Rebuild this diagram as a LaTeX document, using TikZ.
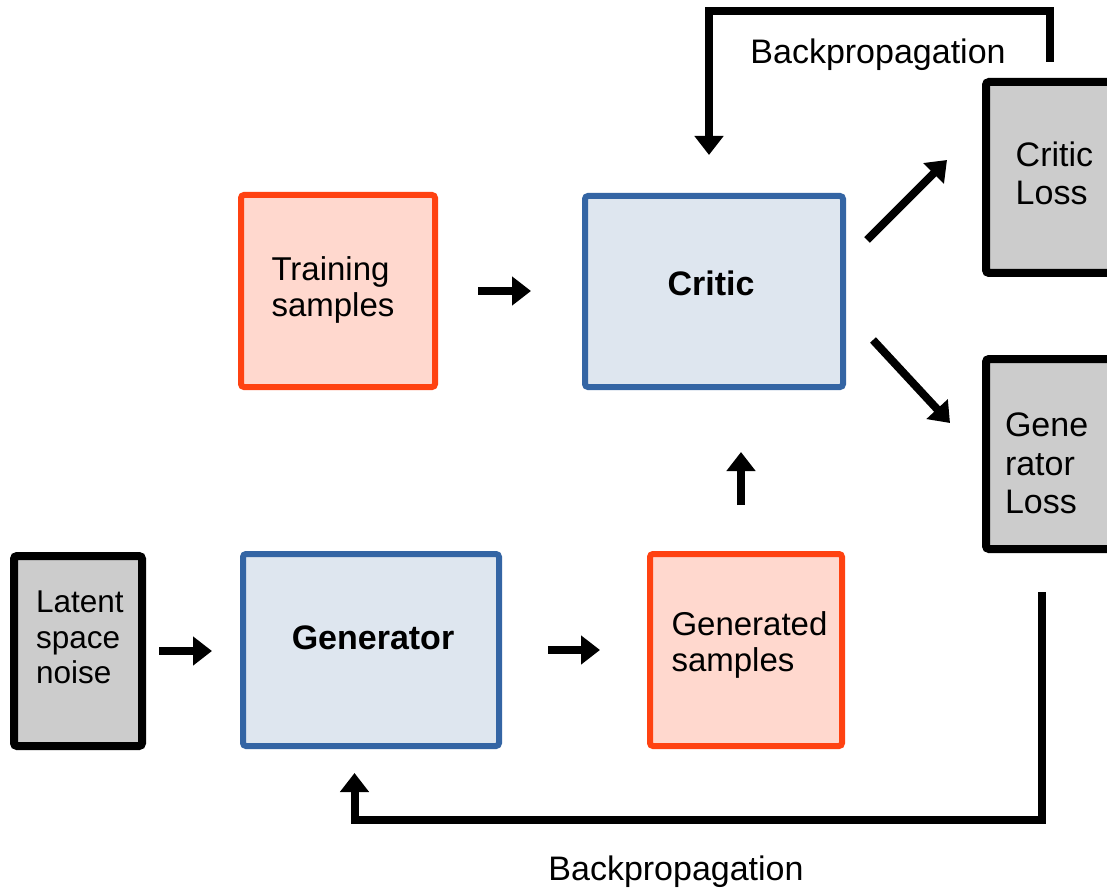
\documentclass[tikz,border=0pt]{standalone}
\usepackage{fontspec}
\setmainfont{Liberation Sans}
\usetikzlibrary{arrows.meta}
\definecolor{orgline}{HTML}{FF4211}
\definecolor{orgfill}{HTML}{FFD8CE}
\definecolor{bluline}{HTML}{3465A4}
\definecolor{blufill}{HTML}{DEE6EF}
\definecolor{grayfill}{HTML}{CCCCCC}
\begin{document}
\begin{tikzpicture}[x=1pt,y=-1pt,
  box/.style={rectangle, rounded corners=3pt, outer sep=0pt, inner sep=0pt},
  orgbox/.style={box, draw=orgline, fill=orgfill, line width=6pt},
  blubox/.style={box, draw=bluline, fill=blufill, line width=6pt},
  graybox/.style={box, draw=black, fill=grayfill, line width=8pt},
  txt/.style={inner sep=0pt, outer sep=0pt, align=left, anchor=base west},
  ctxt/.style={inner sep=0pt, outer sep=0pt, anchor=base},
  fsa/.style={font=\fontsize{33}{36.5}\selectfont},
  fsb/.style={font=\fontsize{34}{38.3}\selectfont},
  fsc/.style={font=\fontsize{31.5}{35.3}\selectfont},
  fsbold/.style={font=\fontsize{34}{38.3}\selectfont\bfseries},
  arr/.style={line width=8pt, -{Triangle[width=28pt,length=19pt]}},
  back/.style={arr, line join=miter},
]
\useasboundingbox (0,0) rectangle (1107,890);
\fill[white] (0,0) rectangle (1107,890);
\clip (0,0) rectangle (1107,890);

% boxes
\node[orgbox, minimum width=194pt, minimum height=192pt] (train) at (338,291) {};
\node[blubox, minimum width=258pt, minimum height=191pt] (critic) at (714,291.5) {};
\node[graybox, minimum width=137pt, minimum height=191pt] (closs) at (1054.5,177.5) {};
\node[graybox, minimum width=134pt, minimum height=190pt] (gloss) at (1053,454) {};
\node[graybox, minimum width=128pt, minimum height=190pt] (latent) at (78,651) {};
\node[blubox, minimum width=256pt, minimum height=192pt] (gen) at (371,650) {};
\node[orgbox, minimum width=192pt, minimum height=192pt] (genr) at (746,650) {};

% texts (base anchor = baseline of the last line)
\node[txt, fsa] (trainT) at (271.5,316.5) {Training\\samples};
\node[ctxt, fsbold] (criticT) at (711,296) {Critic};
\node[txt, fsb] (clossT) at (1015.7,205) {Critic\\Loss};
\node[txt, fsb] (glossT) at (1005,513.3) {Gene\\rator\\Loss};
\node[txt, fsc] (latentT) at (36,683.3) {Latent\\space\\noise};
\node[ctxt, fsbold] (genT) at (373,649) {Generator};
\node[txt, fsa] (genrT) at (671.5,671.5) {Generated\\samples};
\node[ctxt, fsb] (bp1) at (878,64) {Backpropagation};
\node[ctxt, fsb] (bp2) at (676,880) {Backpropagation};

% arrows
\draw[arr, shorten <=43pt, shorten >=54pt] (train.east) -- (train.east -| critic.west);
\draw[arr, shorten <=17pt, shorten >=31pt] (latent.east) -- (latent.east -| gen.west);
\draw[arr, shorten <=49pt, shorten >=50pt] (gen.east) -- (gen.east -| genr.west);
\coordinate (gnup) at ([xshift=-5pt]genr.north);
\draw[arr, shorten <=49pt, shorten >=65pt] (gnup) -- (gnup |- critic.south);
\draw[arr] ([shift={(24,44)}]critic.north east) -- ([shift={(-39,-113)}]closs.south west);
\draw[arr] ([shift={(30,-47)}]critic.south east) -- ([shift={(-36,64)}]gloss.north west);

% backpropagation loops
\draw[back, shorten >=41pt] ([shift={(-4.5,-20)}]closs.north) -- ++(0,-51) -| ([xshift=-5pt]critic.north);
\draw[back, shorten >=27pt] ([shift={(-11,43)}]gloss.south) -- ++(0,228) -| ([xshift=-16.5pt]gen.south);
\end{tikzpicture}
\end{document}
